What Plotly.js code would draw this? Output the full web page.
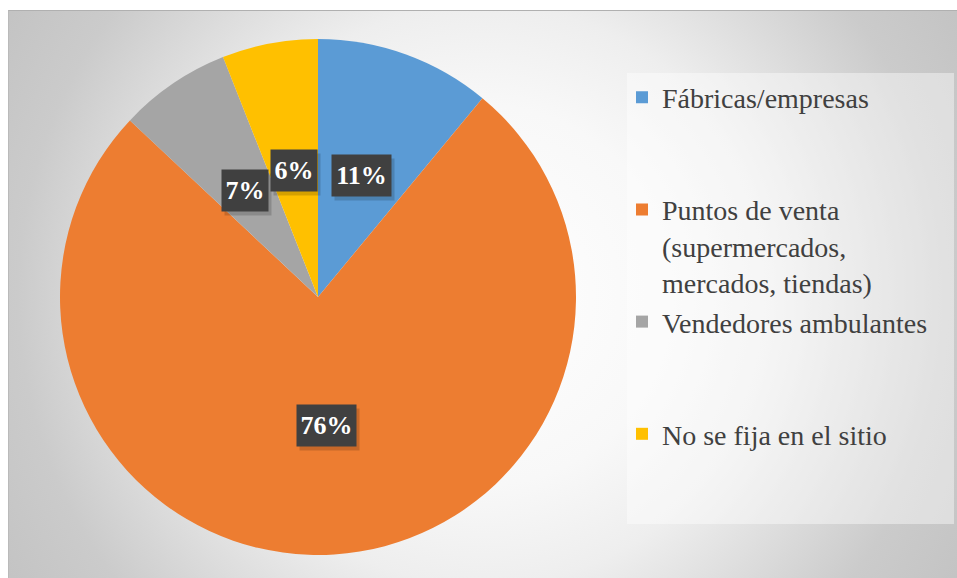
<!DOCTYPE html>
<html><head><meta charset="utf-8">
<script src="https://cdn.plot.ly/plotly-3.0.1.min.js"></script>
<style>
html,body{margin:0;padding:0;background:#ffffff;}
#wrap{position:relative;width:957px;height:578px;overflow:hidden;}
#bg{position:absolute;left:8px;top:10px;width:949px;height:568px;box-sizing:border-box;border-top:1px solid #b0b0b0;border-left:1px solid #bababa;
background:radial-gradient(circle 560px at 474px 284px,#ffffff 0px,#f8f8f8 190px,#eeeeee 290px,#cbcbcb 465px,#c3c3c3 560px);}
#chart{position:absolute;left:0;top:0;width:957px;height:578px;}
</style></head><body>
<div id="wrap"><div id="bg"></div><div id="chart"></div></div>
<script>
// ---- data ----
const categories = [
  "Fábricas/empresas",
  "Puntos de venta<br>(supermercados,<br>mercados, tiendas)",
  "Vendedores ambulantes",
  "No se fija en el sitio"
];
const values = [11, 76, 7, 6];
const valueLabels = ["11%", "76%", "7%", "6%"];

// ---- style ----
const sliceColors = ["#5B9BD5", "#ED7D31", "#A5A5A5", "#FFC000"];
const W = 957, H = 578;
const CX = 318, CY = 297, R = 258;
const serif = "'Liberation Serif', 'DejaVu Serif', serif";

// legend entries padded to a uniform three-line block
const legendLabels = categories.map(function (c) {
  const n = c.split("<br>").length;
  let s = c;
  for (let k = n; k < 3; k++) s += "<br>\u00a0";
  return s;
});

const domain = {
  x: [(CX - R) / W, (CX + R) / W],
  y: [(H - CY - R) / H, (H - CY + R) / H]
};

const trace = {
  type: "pie",
  labels: legendLabels,
  values: values,
  sort: false,
  direction: "clockwise",
  rotation: 0,
  marker: { colors: sliceColors, line: { width: 0 } },
  textinfo: "none",
  hoverinfo: "skip",
  domain: domain
};

// data labels at the middle radius of each slice
const total = values.reduce(function (a, b) { return a + b; }, 0);
const annotations = [];
let cum = 0;
values.forEach(function (v, i) {
  const mid = (cum + v / 2) / total * 2 * Math.PI;
  cum += v;
  const px = CX + 0.5 * R * Math.sin(mid);
  const py = CY - 0.5 * R * Math.cos(mid);
  const txt = valueLabels[i];
  const w = 31 + 13 * (txt.length - 1);
  // shadow
  annotations.push({
    xref: "paper", yref: "paper",
    x: (px + 3) / W, y: 1 - (py + 4) / H,
    xanchor: "center", yanchor: "middle",
    text: "", showarrow: false,
    width: w, height: 39,
    bgcolor: "rgba(0,0,0,0.16)"
  });
  annotations.push({
    xref: "paper", yref: "paper",
    x: px / W, y: 1 - py / H,
    xanchor: "center", yanchor: "middle",
    text: "<b>" + txt + "</b>", showarrow: false,
    font: { family: serif, size: 26, color: "#ffffff" },
    width: w, height: 39,
    bgcolor: "#404040"
  });
});

const layout = {
  width: W, height: H,
  margin: { l: 0, r: 0, t: 0, b: 0 },
  paper_bgcolor: "rgba(0,0,0,0)",
  plot_bgcolor: "rgba(0,0,0,0)",
  font: { family: serif },
  showlegend: true,
  legend: {
    x: 622 / W, xanchor: "left",
    y: 1 - 72.5 / H, yanchor: "top",
    bgcolor: "rgba(0,0,0,0)",
    borderwidth: 0,
    valign: "top",
    font: { family: serif, size: 28, color: "#404040" }
  },
  shapes: [{
    type: "rect", xref: "paper", yref: "paper", layer: "below",
    x0: 627 / W, x1: 954 / W, y0: 1 - 524 / H, y1: 1 - 73 / H,
    fillcolor: "rgba(255,255,255,0.42)", line: { width: 0 }
  }],
  annotations: annotations
};

Plotly.newPlot("chart", [trace], layout, { displayModeBar: false, staticPlot: true });
</script>
</body></html>
